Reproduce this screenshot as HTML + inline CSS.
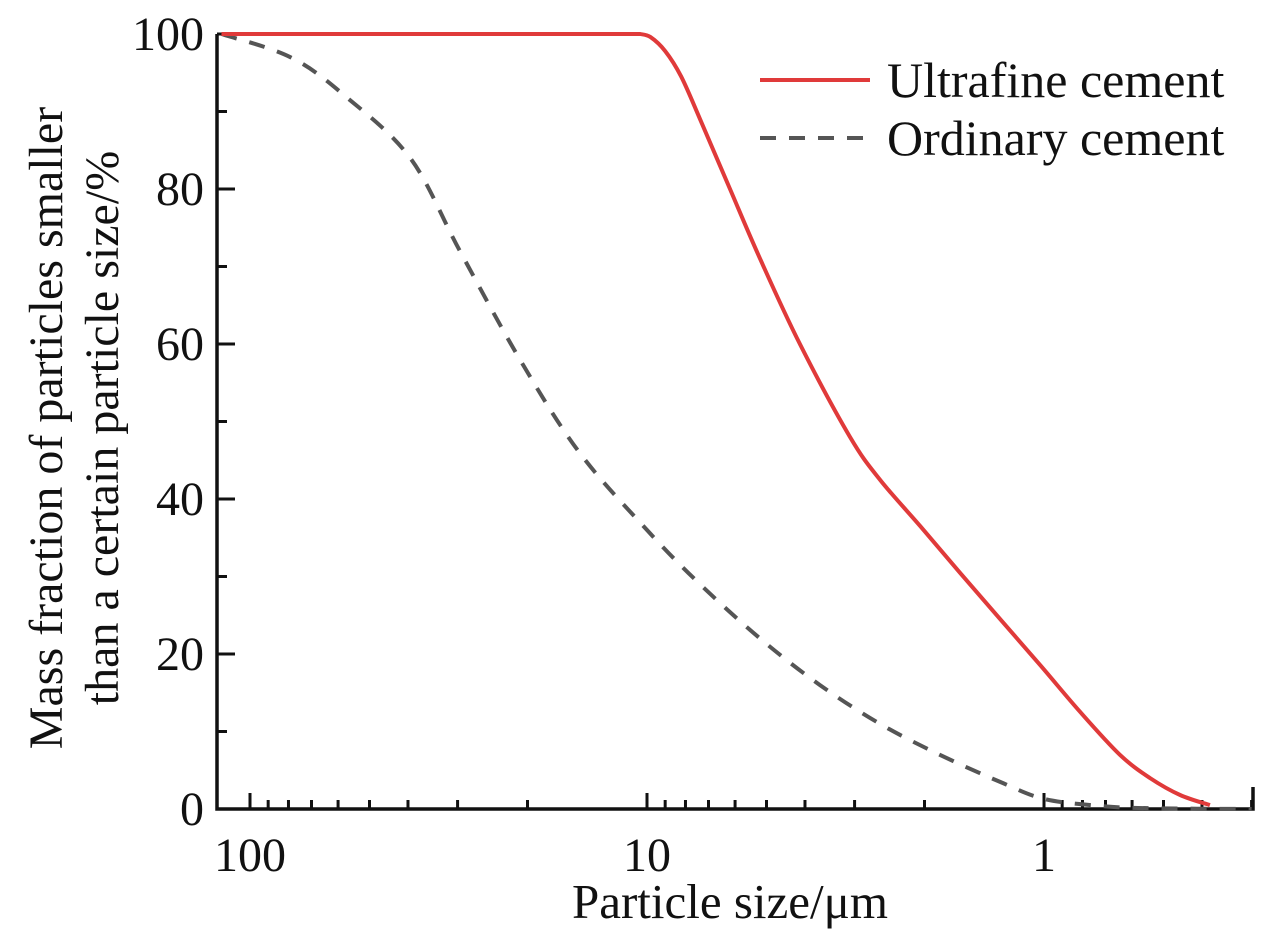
<!DOCTYPE html>
<html><head><meta charset="utf-8"><style>
body{margin:0;background:#fff}
svg text{font-family:"Liberation Serif",serif;fill:#111}
</style></head><body>
<svg width="1264" height="938">
<g id="axes"></g>
<g id="series"></g>
<g>
<line x1="760" y1="80" x2="870" y2="80" stroke="#e03a3a" stroke-width="4"/>
<text x="887" y="97" font-size="50">Ultrafine cement</text>
<line x1="760" y1="138" x2="870" y2="138" stroke="#555" stroke-width="4" stroke-dasharray="16,13"/>
<text x="887" y="155" font-size="50">Ordinary cement</text>
</g>
<text x="730" y="918" font-size="49" text-anchor="middle">Particle size/μm</text>
<g transform="translate(62,428) rotate(-90)">
<text x="0" y="0" font-size="48" text-anchor="middle">Mass fraction of particles smaller</text>
<text x="0" y="56" font-size="48" text-anchor="middle">than a certain particle size/%</text>
</g>
</svg>
<script>
const ultraSize=[118,10.4,9.8,9.0,8.2,7.35,6.18,5.19,4.12,3.08,2.59,2.05,1.63,1.29,1.02,0.81,0.644,0.541,0.454,0.382];
const ultraVal=[100,100,99.6,97.8,94.5,89,80,71,60,48,42.5,36.5,30.5,24.5,18.5,12.5,7,4,1.8,0.5];
const ordSize=[118,79,57.6,39.5,29.6,20.9,14.8,10,7.35,5.19,3.67,2.59,1.83,1.29,1.0,0.723,0.541,0.3];
const ordVal=[100,97,92,84,72,58,46,36,29,22,16,11,7,3.5,1.3,0.4,0.1,0];
const yTicks=[0,20,40,60,80,100];
const xMajor=[100,10,1];
const xMajorLabels=["100","10","1"];
const NS="http://www.w3.org/2000/svg";
const L=217,B=809,T=34,R=1253;
function X(v){return 1044-Math.log10(v)*397;}
function Y(v){return B-(v/100)*(B-T);}
function mk(tag,at,p){const e=document.createElementNS(NS,tag);for(const k in at)e.setAttribute(k,at[k]);p.appendChild(e);return e;}
const ax=document.getElementById('axes');
let sp=mk('path',{d:`M${L},${T} V${B} H${R} V${B-22}`,fill:'none',stroke:'#111','stroke-width':3.5},ax);


for(let v=0;v<=100;v+=10){
  const major=v%20===0;
  let t=mk('line',{x1:L,x2:L+(major?18:10),y1:Y(v),y2:Y(v),stroke:'#111','stroke-width':3},ax);
  
  
}
yTicks.forEach(v=>{
  let t=mk('text',{x:L-13,y:Y(v)+16,'font-size':48,'text-anchor':'end'},ax);
  t.textContent=v;
  
  
});
xMajor.forEach((v,i)=>{
  let t=mk('line',{x1:X(v),x2:X(v),y1:B,y2:B-16,stroke:'#111','stroke-width':3},ax);
  
  
  let l=mk('text',{x:X(v),y:B+62,'font-size':48,'text-anchor':'middle'},ax);
  l.textContent=xMajorLabels[i];
  
  
});
[10,1,0.1].forEach(d=>{for(let k=2;k<=9;k++){const v=d*k;if(X(v)<L||X(v)>R)continue;
  let t=mk('line',{x1:X(v),x2:X(v),y1:B,y2:B-9,stroke:'#111','stroke-width':3},ax);
  
  }});
const sg=document.getElementById('series');
function path(s,v,smoothFrom){
  const p=s.map((x,i)=>[X(x),Y(v[i])]);
  let d='M'+p[0][0].toFixed(1)+','+p[0][1].toFixed(1);
  for(let i=0;i<p.length-1;i++){
    if(i<smoothFrom){d+=' L'+p[i+1][0].toFixed(1)+','+p[i+1][1].toFixed(1);continue;}
    const p0=(i===smoothFrom)?p[i]:p[Math.max(i-1,0)],p1=p[i],p2=p[i+1],p3=p[Math.min(i+2,p.length-1)];
    const c1=[p1[0]+(p2[0]-p0[0])/6,p1[1]+(p2[1]-p0[1])/6];
    const c2=[p2[0]-(p3[0]-p1[0])/6,p2[1]-(p3[1]-p1[1])/6];
    d+=` C${c1[0].toFixed(1)},${c1[1].toFixed(1)} ${c2[0].toFixed(1)},${c2[1].toFixed(1)} ${p2[0].toFixed(1)},${p2[1].toFixed(1)}`;
  }
  return d;
}
let o=mk('path',{d:path(ordSize,ordVal,0),fill:'none',stroke:'#555','stroke-width':4,'stroke-dasharray':'16,13'},sg);


let u=mk('path',{d:path(ultraSize,ultraVal,1),fill:'none',stroke:'#e03a3a','stroke-width':4,'stroke-linejoin':'round'},sg);


</script>
</body></html>
